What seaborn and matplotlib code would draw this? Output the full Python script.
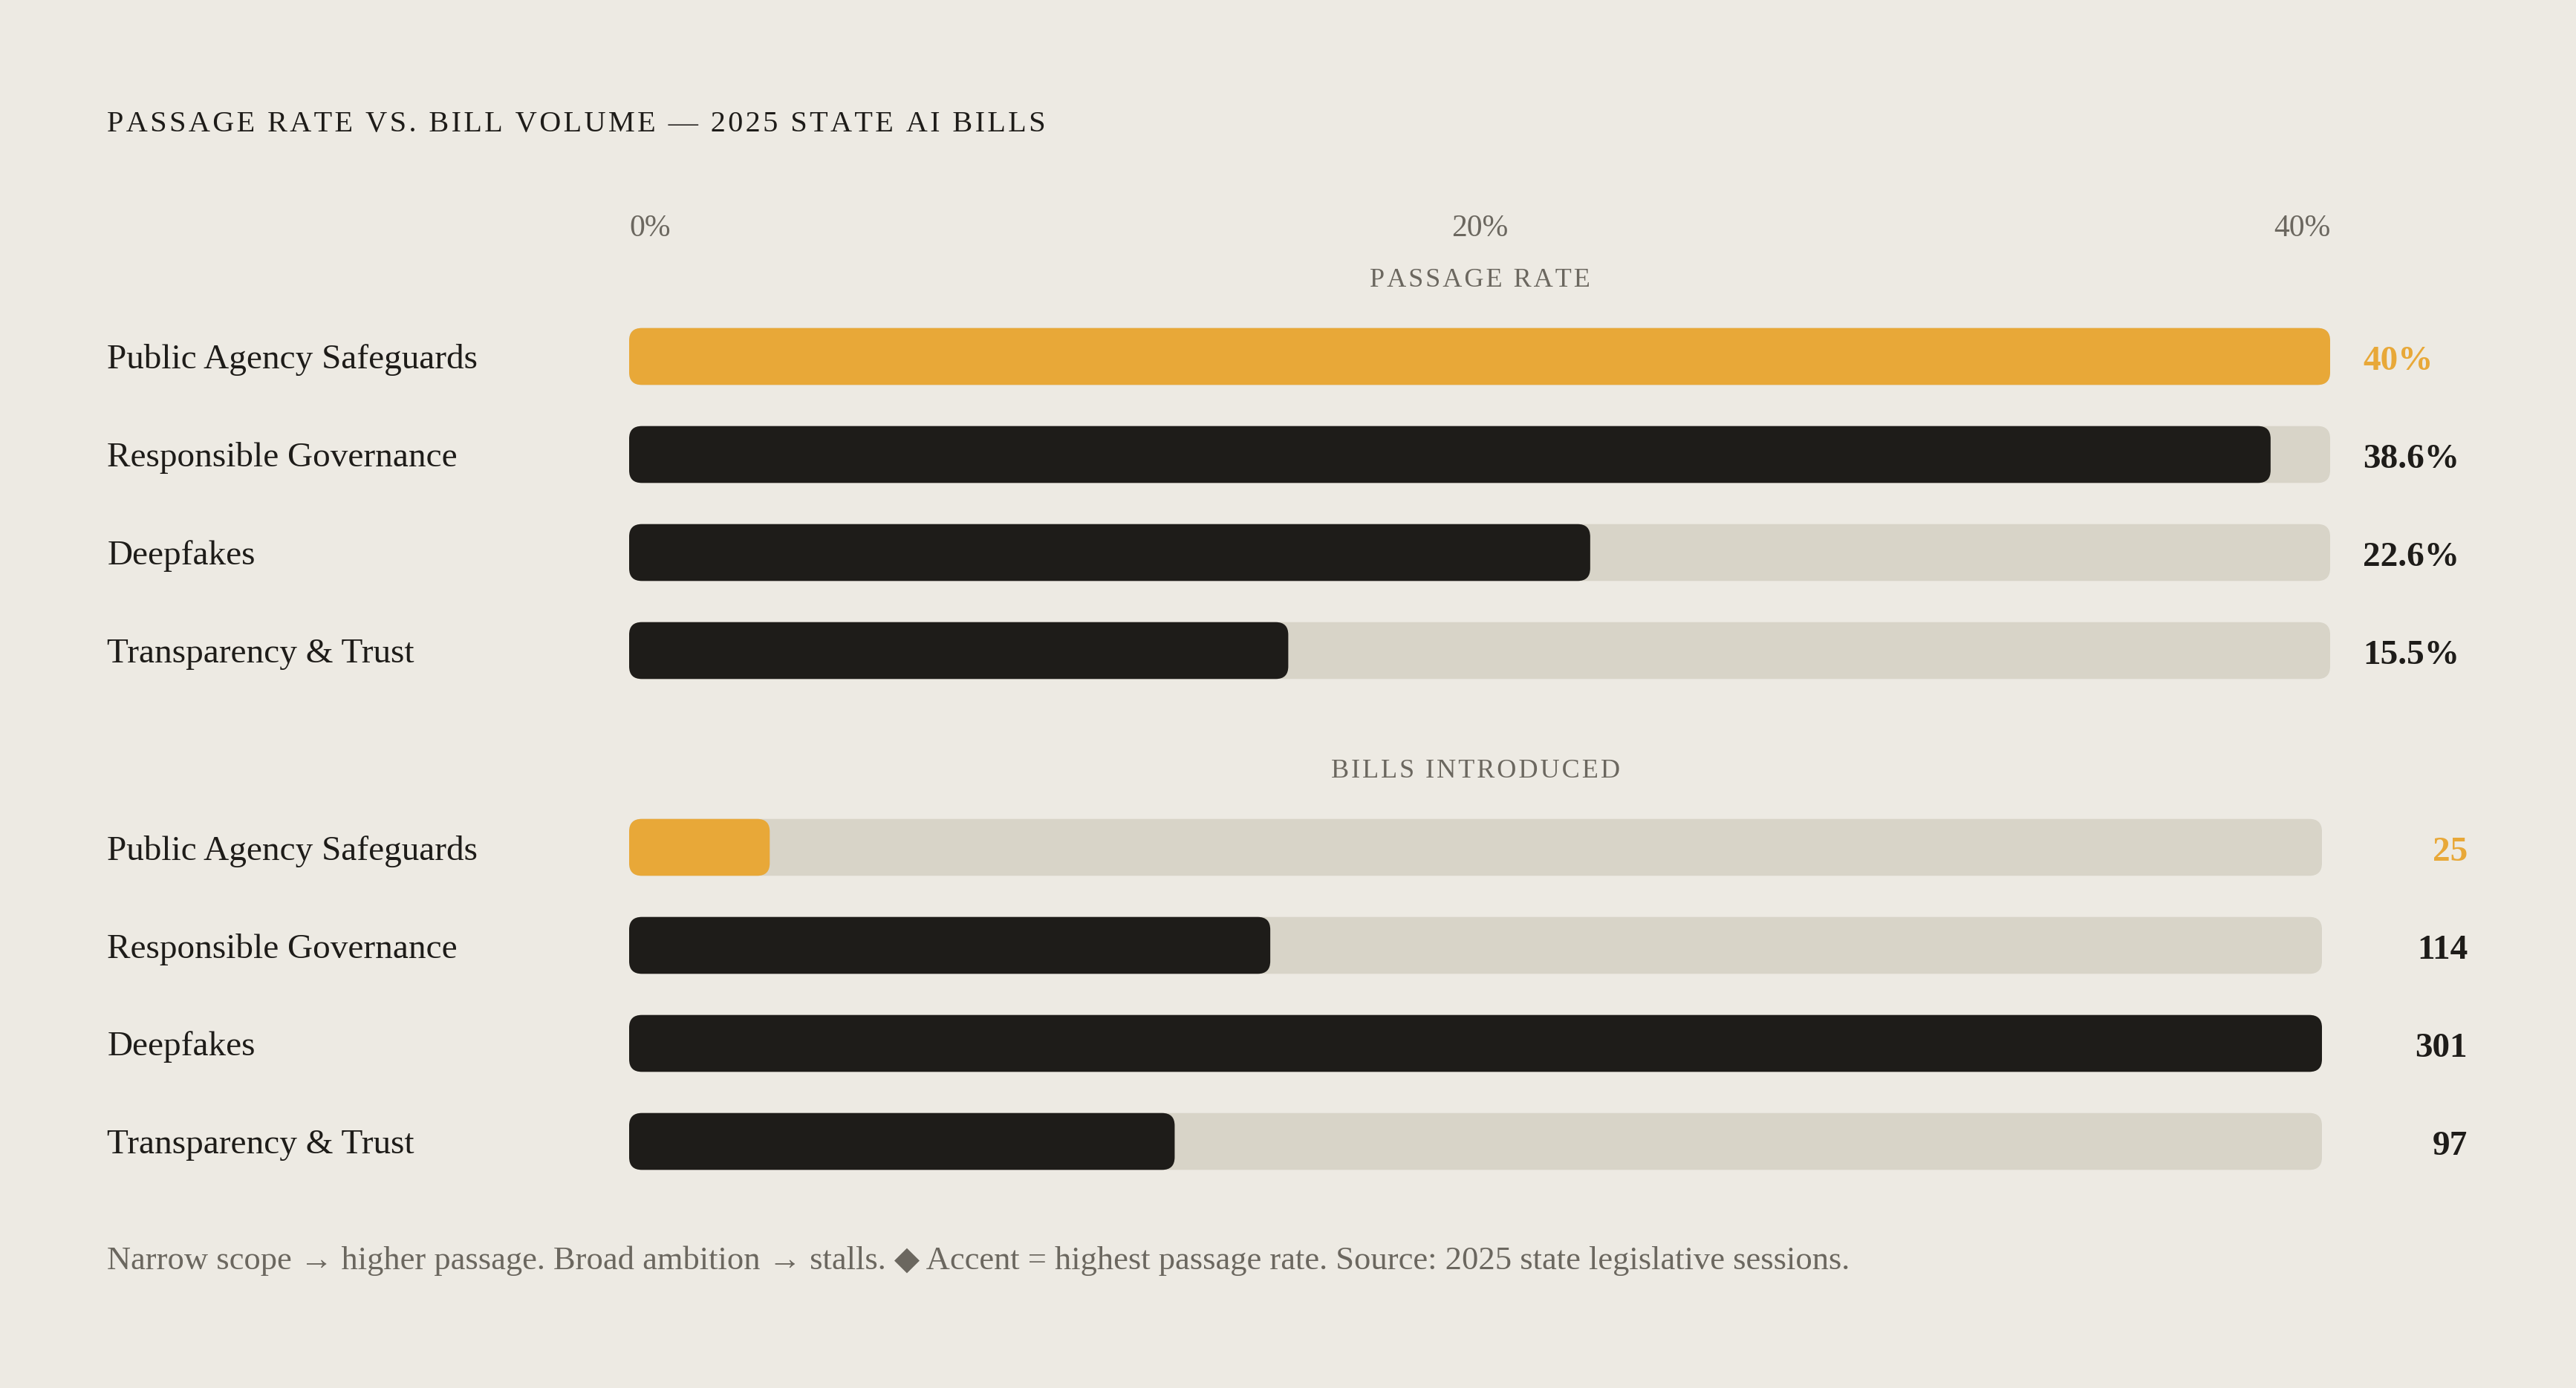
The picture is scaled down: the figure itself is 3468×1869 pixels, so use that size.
import matplotlib
matplotlib.use("Agg")
import matplotlib.pyplot as plt
from matplotlib.patches import FancyBboxPatch
import seaborn as sns

categories = ["Public Agency Safeguards", "Responsible Governance", "Deepfakes", "Transparency & Trust"]
passage_rate = [40.0, 38.6, 22.6, 15.5]
bills_introduced = [25, 114, 301, 97]
rate_labels = ["40%", "38.6%", "22.6%", "15.5%"]
bill_labels = ["25", "114", "301", "97"]
rate_ticks = [0, 20, 40]
rate_tick_labels = ["0%", "20%", "40%"]

title = "PASSAGE RATE VS. BILL VOLUME \u2014 2025 STATE AI BILLS"
note = ("Narrow scope \u2192 higher passage. Broad ambition \u2192 stalls. \u25c6 Accent = highest "
        "passage rate. Source: 2025 state legislative sessions.")

BG = "#EDEAE3"
TRACK = "#D8D4C8"
DARK = "#1E1C19"
ACCENT = "#E8A838"
GREY = "#6B675F"
colors = [ACCENT, DARK, DARK, DARK]

sns.set_theme(style="white")
plt.rcParams["font.family"] = ["Liberation Serif", "DejaVu Serif", "DejaVu Sans"]

W, H, DPI = 3468, 1869, 200
fig = plt.figure(figsize=(W / DPI, H / DPI), dpi=DPI, facecolor=BG)


def spaced(s):
    # letter-spaced caps
    return "\u200a".join(s)


def round_bars(ax, radius_px):
    x0, x1 = ax.get_xlim()
    y0, y1 = ax.get_ylim()
    sx = ax.bbox.width / abs(x1 - x0)
    sy = ax.bbox.height / abs(y1 - y0)
    for p in list(ax.patches):
        x, y, w, h = p.get_x(), p.get_y(), p.get_width(), p.get_height()
        fc = p.get_facecolor()
        z = p.get_zorder()
        p.remove()
        r = min(radius_px / sx, w / 2)
        ax.add_patch(FancyBboxPatch((x, y), w, h,
                                    boxstyle=f"round,pad=0,rounding_size={r}",
                                    mutation_aspect=sx / sy, fc=fc, ec="none", zorder=z))


def panel(rect, values, vmax, labels, label_x_pt, label_ha, section):
    ax = fig.add_axes(rect)
    ax.set_facecolor(BG)
    sns.barplot(x=[vmax] * len(categories), y=categories, orient="h", color=TRACK,
                width=0.58, saturation=1, ax=ax)
    sns.barplot(x=values, y=categories, hue=categories, palette=colors, orient="h",
                width=0.58, saturation=1, legend=False, ax=ax)
    ax.set_xlim(0, vmax)
    ax.set_ylim(len(categories) - 0.5, -0.5)
    ax.set_xlabel("")
    ax.set_ylabel("")
    for s in ax.spines.values():
        s.set_visible(False)
    ax.tick_params(axis="y", length=0, pad=253, labelsize=17, labelcolor=DARK)
    for t in ax.get_yticklabels():
        t.set_horizontalalignment("left")
    for i, (lab, c) in enumerate(zip(labels, colors)):
        ax.annotate(lab, xy=(1, i), xycoords=("axes fraction", "data"),
                    xytext=(label_x_pt, -2.4), textcoords="offset points",
                    ha=label_ha, va="center", fontsize=17, fontweight="bold", color=c)
    ax.annotate(spaced(section), xy=(0.5, 1), xycoords="axes fraction",
                xytext=(0, 13), textcoords="offset points",
                ha="center", va="center", fontsize=13, color=GREY)
    round_bars(ax, 17)
    return ax


top = panel([847 / W, 1 - 942 / H, 2290 / W, 528 / H], passage_rate, 40,
            rate_labels, 15.8, "left", "PASSAGE RATE")
top.xaxis.tick_top()
top.set_xticks(rate_ticks)
top.set_xticklabels(rate_tick_labels)
top.tick_params(axis="x", length=0, pad=31.5, labelsize=15, labelcolor=GREY)
for t, ha in zip(top.get_xticklabels(), ["left", "center", "right"]):
    t.set_horizontalalignment(ha)

bottom = panel([847 / W, 1 - 1603 / H, 2279 / W, 528 / H], bills_introduced, 301,
               bill_labels, 70.6, "right", "BILLS INTRODUCED")
bottom.set_xticks([])

fig.text(144 / W, 1 - 168 / H, spaced(title), ha="left", va="center",
         fontsize=14.5, color=DARK)
fig.text(144 / W, 1 - 1698 / H, note, ha="left", va="center", fontsize=16, color=GREY)

fig.savefig("out.png", dpi=DPI, facecolor=BG)
